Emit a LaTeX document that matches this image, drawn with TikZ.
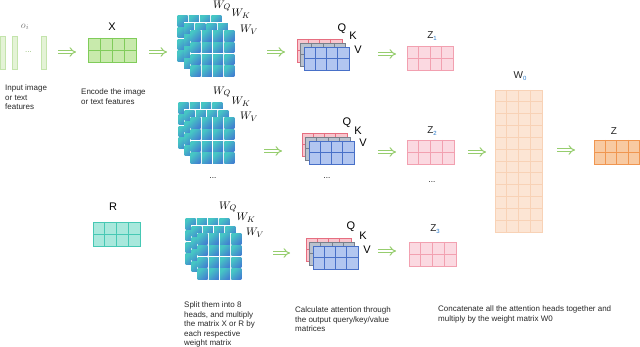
\documentclass[tikz,border=0pt]{standalone}
\usepackage{fontspec}
\setmainfont{Liberation Sans}
\usetikzlibrary{calc,arrows.meta}
\definecolor{agreen}{RGB}{150,205,110}
\definecolor{captext}{RGB}{40,40,40}
\definecolor{infill}{RGB}{228,243,214}
\definecolor{inline}{RGB}{196,228,172}
\definecolor{xfill}{RGB}{200,234,172}
\definecolor{xline}{RGB}{128,204,90}
\definecolor{rfill}{RGB}{168,232,220}
\definecolor{rline}{RGB}{70,200,180}
\definecolor{wteal}{RGB}{70,198,196}
\definecolor{wblue}{RGB}{66,130,208}
\definecolor{qfill}{RGB}{248,198,206}
\definecolor{qline}{RGB}{230,110,128}
\definecolor{kfill}{RGB}{186,194,206}
\definecolor{kline}{RGB}{120,128,140}
\definecolor{vfill}{RGB}{178,198,240}
\definecolor{vline}{RGB}{72,112,200}
\definecolor{zfill}{RGB}{251,217,225}
\definecolor{zline}{RGB}{242,160,176}
\definecolor{w0fill}{RGB}{252,229,212}
\definecolor{w0line}{RGB}{248,210,182}
\definecolor{ofill}{RGB}{248,202,162}
\definecolor{oline}{RGB}{240,150,80}
\definecolor{subblue}{RGB}{40,120,200}
\tikzset{
  gbox/.style={anchor=north west, inner sep=0pt, outer sep=0pt, line width=0.8pt},
  xmat/.style={fill=xfill, draw=xline},
  rmat/.style={fill=rfill, draw=rline},
  qmat/.style={fill=qfill, draw=qline},
  kmat/.style={fill=kfill, draw=kline},
  vmat/.style={fill=vfill, draw=vline},
  zmat/.style={fill=zfill, draw=zline},
  w0mat/.style={fill=w0fill, draw=w0line},
  omat/.style={fill=ofill, draw=oline},
  inbar/.style={anchor=north west, inner sep=0pt, fill=infill, draw=inline, line width=0.8pt},
  arr/.style={draw=agreen, line width=1pt, double=white, double distance=2.2pt, -{Implies}},
  captxt/.style={anchor=north west, inner sep=0pt, align=left, font=\fontsize{8}{9.6}\selectfont, text=captext},
  lab/.style={inner sep=0pt, font=\fontsize{11}{11}\selectfont},
  zlab/.style={inner sep=0pt, font=\fontsize{10}{10}\selectfont, text=black!85},
  dotlab/.style={inner sep=0pt, font=\fontsize{8}{8}\selectfont},
}
\newcommand\gridbox[8]{%
  \node[gbox, minimum width=#4pt, minimum height=#5pt, #8] (#1) at (#2,#3) {};
  \pgfmathtruncatemacro\gbc{#6-1}%
  \pgfmathtruncatemacro\gbr{#7-1}%
  \foreach \k in {1,...,\gbc}{\draw[#8, line width=0.8pt] ($(#1.north west)!\k/#6!(#1.north east)$) -- ($(#1.south west)!\k/#6!(#1.south east)$);}
  \foreach \k in {1,...,\gbr}{\draw[#8, line width=0.8pt] ($(#1.north west)!\k/#7!(#1.south west)$) -- ($(#1.north east)!\k/#7!(#1.south east)$);}
}
\newcommand\wlayer[3]{%
  \node[anchor=north west, inner sep=0pt, outer sep=0pt, minimum width=45pt, minimum height=47pt, fill=white] (#1) at (#2,#3) {};
  \foreach \i in {0,...,3}{\foreach \j in {0,...,3}{
    \shade[top color=wteal, bottom color=wblue, shading angle=45]
      ($(#1.north west)+(\i*11.25+0.7,\j*11.75+0.7)$) rectangle ++(9.85,10.35);
  }}
}
\newcommand\qkv[3]{% prefix, x, y
  \gridbox{#1q}{#2}{#3}{45}{23}{4}{2}{qmat}
  \gridbox{#1k}{#2+3.5}{#3+4}{45}{23}{4}{2}{kmat}
  \gridbox{#1v}{#2+7}{#3+8}{45}{23}{4}{2}{vmat}
}
\begin{document}
\begin{tikzpicture}[x=1pt,y=-1pt]
\useasboundingbox (0,0) rectangle (640,347);

% input
\node[inbar, minimum width=5pt, minimum height=33pt] (in1) at (0,36) {};
\node[inbar, minimum width=5pt, minimum height=33pt] (in2) at (12,36) {};
\node[inbar, minimum width=5pt, minimum height=33pt] (in3) at (40.5,36) {};
\node[dotlab, text=agreen!80!gray] (indots) at (28.5,52) {...};
\node[inner sep=0pt, font=\fontsize{10}{10}\selectfont, text=black!55] (oi) at (25,27) {$o_i$};
\node[captxt] (c1) at (5,84.5) {Input image\\or text\\features};

% X
\gridbox{X}{88}{38}{48}{24}{4}{2}{xmat}
\node[lab] (Xl) at (112,27) {X};
\node[captxt] (c2) at (81,88.5) {Encode the image\\or text features};

% R
\gridbox{R}{93}{222}{47}{24}{4}{2}{rmat}
\node[lab] (Rl) at (113,207) {R};

% weight stacks
\wlayer{wa1}{177}{15}\wlayer{wa2}{183.5}{22.5}\wlayer{wa3}{190}{30}
\wlayer{wb1}{178}{102}\wlayer{wb2}{184}{109.5}\wlayer{wb3}{190}{117}
\wlayer{wc1}{185}{218}\wlayer{wc2}{191}{225.5}\wlayer{wc3}{197}{233}
\node[lab] (waq) at (222,6) {$W_Q$};
\node[lab] (wak) at (241,14) {$W_K$};
\node[lab] (wav) at (249,30) {$W_V$};
\node[lab] (wbq) at (222,92) {$W_Q$};
\node[lab] (wbk) at (241,102) {$W_K$};
\node[lab] (wbv) at (249,117) {$W_V$};
\node[lab] (wcq) at (228,207) {$W_Q$};
\node[lab] (wck) at (246,218) {$W_K$};
\node[lab] (wcv) at (255,233) {$W_V$};
\node[dotlab] (wbdots) at (213,178) {...};
\node[captxt] (c3) at (184,301.5) {Split them into 8\\heads, and multiply\\the matrix X or R by\\each respective\\weight matrix};

% QKV
\qkv{a}{297}{39}
\qkv{b}{302}{133}
\qkv{c}{306}{238}
\node[lab] (aQ) at (342,29) {Q};
\node[lab] (aK) at (353,36) {K};
\node[lab] (aV) at (358,50) {V};
\node[lab] (bQ) at (347,123) {Q};
\node[lab] (bK) at (358,131) {K};
\node[lab] (bV) at (363,143) {V};
\node[lab] (cQ) at (351,227) {Q};
\node[lab] (cK) at (363,236) {K};
\node[lab] (cV) at (367,250) {V};
\node[dotlab] (bdots) at (327,178) {...};
\node[captxt] (c4) at (295,306.5) {Calculate attention through\\the output query/key/value\\matrices};

% Z heads
\gridbox{Z1}{407}{46}{46}{24}{4}{2}{zmat}
\gridbox{Z2}{407}{140}{47}{24}{4}{2}{zmat}
\gridbox{Z3}{409}{242}{47}{24}{4}{2}{zmat}
\node[zlab] (z1l) at (432,36) {Z\raisebox{-1.5pt}{\fontsize{6}{6}\selectfont\color{subblue}1}};
\node[zlab] (z2l) at (432,131) {Z\raisebox{-1.5pt}{\fontsize{6}{6}\selectfont\color{subblue}2}};
\node[zlab] (z3l) at (435,229) {Z\raisebox{-1.5pt}{\fontsize{6}{6}\selectfont\color{subblue}3}};
\node[dotlab] (zdots) at (432,182) {...};

% W0 and Z
\gridbox{W0}{495}{90}{47}{142}{4}{12}{w0mat}
\node[zlab] (w0l) at (520,76) {W\raisebox{-1.5pt}{\fontsize{6}{6}\selectfont\color{subblue}0}};
\gridbox{Zo}{594}{140}{45.5}{24}{4}{2}{omat}
\node[zlab] (zol) at (614,131) {Z};
\node[captxt] (c5) at (438,305.5) {Concatenate all the attention heads together and\\multiply by the weight matrix W0};

% arrows
\coordinate (a1s) at (58,52);   \coordinate (a1e) at (76,52);
\coordinate (a2s) at (149,52);  \coordinate (a2e) at (167,52);
\coordinate (a3s) at (267,52);  \coordinate (a3e) at (285,52);
\coordinate (a4s) at (378,54);  \coordinate (a4e) at (396,54);
\coordinate (a5s) at (264,151); \coordinate (a5e) at (282,151);
\coordinate (a6s) at (378,152); \coordinate (a6e) at (396,152);
\coordinate (a7s) at (273,253); \coordinate (a7e) at (290,253);
\coordinate (a8s) at (378,251); \coordinate (a8e) at (396,251);
\coordinate (a9s) at (468,152); \coordinate (a9e) at (486,152);
\coordinate (a10s) at (557,150); \coordinate (a10e) at (575,150);
\foreach \n in {1,...,10}{\draw[arr] (a\n s) -- (a\n e);}
\end{tikzpicture}
\end{document}
